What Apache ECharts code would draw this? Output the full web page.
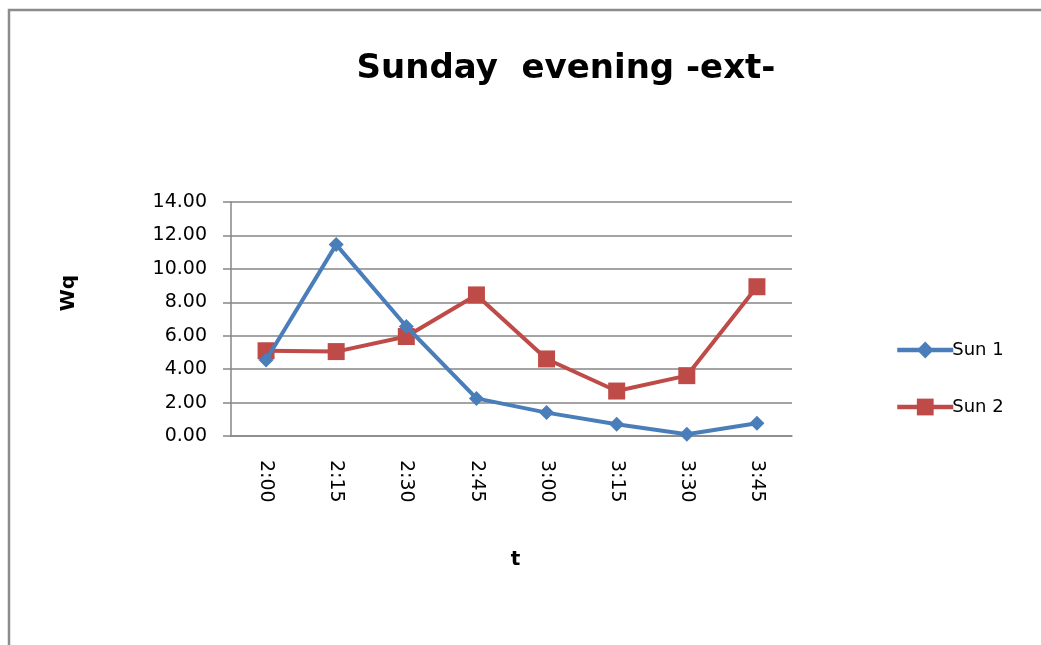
<!DOCTYPE html>
<html>
<head>
<meta charset="utf-8">
<script src="https://cdn.jsdelivr.net/npm/echarts@6/dist/echarts.min.js"></script>
<style>
  html, body { margin: 0; padding: 0; background: #fff; }
  #chart { width: 1041px; height: 645px; }
</style>
</head>
<body>
<div id="chart"></div>
<script>
// Time slots along the horizontal axis
const categories = ['2:00', '2:15', '2:30', '2:45', '3:00', '3:15', '3:30', '3:45'];
// Wq values per series
const sun1 = [4.55, 11.45, 6.55, 2.25, 1.40, 0.70, 0.10, 0.76];
const sun2 = [5.10, 5.05, 5.95, 8.44, 4.61, 2.69, 3.61, 8.93];
const seriesNames = ['Sun 1', 'Sun 2'];
const yTicks = { min: 0, max: 14, interval: 2 };

const FONT = '"DejaVu Sans", sans-serif';
const BLUE = '#4A7EBB';
const RED = '#BE4B48';
const AXIS_GRAY = '#868686';

const chart = echarts.init(document.getElementById('chart'));
chart.setOption({
  animation: false,
  backgroundColor: '#fff',
  graphic: [
    {
      type: 'polyline',
      shape: { points: [[9, 645], [9, 10], [1041, 10]] },
      style: { stroke: '#8c8c8c', lineWidth: 2.5, fill: null }
    }
  ],
  title: {
    text: 'Sunday  evening -ext-',
    left: 561,
    textAlign: 'center',
    top: 47,
    textStyle: { fontFamily: FONT, fontSize: 34, fontWeight: 'bold', color: '#000' }
  },
  legend: {
    orient: 'vertical',
    left: 890,
    top: 336,
    itemGap: 39,
    itemWidth: 56,
    itemHeight: 21,
    lineStyle: { width: 4.5 },
    textStyle: { fontFamily: FONT, fontSize: 18, color: '#000', padding: [0, 0, 0, -6] },
    data: seriesNames
  },
  grid: { left: 231, right: 249, top: 202, bottom: 209, containLabel: false },
  xAxis: {
    type: 'category',
    data: categories,
    boundaryGap: true,
    name: 't',
    nameLocation: 'middle',
    nameGap: 114,
    nameTextStyle: { fontFamily: FONT, fontSize: 20, fontWeight: 'bold', color: '#000', padding: [0, 0, 0, 8] },
    axisLine: { lineStyle: { color: AXIS_GRAY, width: 1.5 } },
    axisTick: { alignWithLabel: true, length: 6, lineStyle: { color: AXIS_GRAY, width: 1.5 } },
    axisLabel: {
      rotate: -90,
      margin: 24,
      fontFamily: FONT,
      fontSize: 19,
      color: '#000'
    },
    splitLine: { show: false }
  },
  yAxis: {
    type: 'value',
    min: yTicks.min,
    max: yTicks.max,
    interval: yTicks.interval,
    name: 'Wq',
    nameLocation: 'middle',
    nameGap: 152,
    nameRotate: 90,
    nameTextStyle: { fontFamily: FONT, fontSize: 20, fontWeight: 'bold', color: '#000', padding: [0, 0, 0, 52] },
    axisLine: { show: true, lineStyle: { color: AXIS_GRAY, width: 1.5 } },
    axisTick: { show: true, length: 8, lineStyle: { color: AXIS_GRAY, width: 1.5 } },
    axisLabel: {
      margin: 24,
      fontFamily: FONT,
      fontSize: 19,
      color: '#000',
      formatter: v => v.toFixed(2)
    },
    splitLine: { show: true, lineStyle: { color: AXIS_GRAY, width: 1.5 } }
  },
  series: [
    {
      name: seriesNames[0],
      type: 'line',
      data: sun1,
      symbol: 'diamond',
      symbolSize: 15,
      lineStyle: { color: BLUE, width: 4 },
      itemStyle: { color: BLUE },
      z: 3
    },
    {
      name: seriesNames[1],
      type: 'line',
      data: sun2,
      symbol: 'rect',
      symbolSize: 17,
      lineStyle: { color: RED, width: 4 },
      itemStyle: { color: RED },
      z: 2
    }
  ]
});
</script>
</body>
</html>
